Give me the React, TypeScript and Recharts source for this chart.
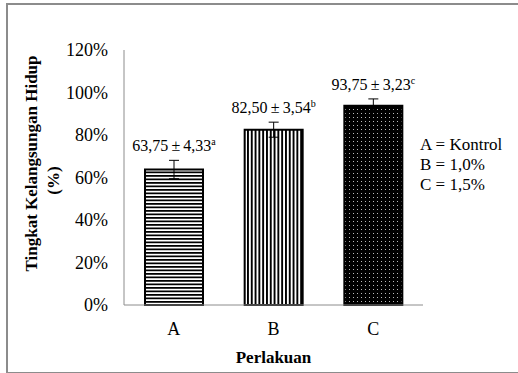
import React from "react";
import { BarChart, Bar, XAxis, YAxis, ErrorBar, Cell, LabelList } from "recharts";

// perlakuan
const categories = ["A", "B", "C"];
// tingkat kelangsungan hidup rata-rata (%)
const means = [63.75, 82.5, 93.75];
// simpangan baku
const sds = [4.33, 3.54, 3.23];
// huruf notasi uji lanjut
const letters = ["a", "b", "c"];
const yTicks = [0, 20, 40, 60, 80, 100, 120];
const legendLines = ["A = Kontrol", "B = 1,0%", "C = 1,5%"];

const data = categories.map((c, i) => ({
  name: c,
  mean: means[i],
  sd: sds[i],
  letter: letters[i],
}));

const FONT = '"Liberation Serif", "Times New Roman", serif';
const fills = ["url(#hstripes)", "url(#vstripes)", "url(#dots)"];

const fmt = (v: number) => v.toFixed(2).replace(".", ",");

function ValueLabel(props: any) {
  const { x, y, width, height, index } = props;
  const d = data[index];
  const pxPerUnit = height / d.mean;
  const errTop = y - d.sd * pxPerUnit;
  return (
    <text
      x={x + width / 2}
      y={errTop - 9}
      textAnchor="middle"
      fontFamily={FONT}
      fontSize={16}
      fill="#000"
    >
      {`${fmt(d.mean)}\u2009±\u2009${fmt(d.sd)}`}
      <tspan fontSize={10} dy={-6}>
        {d.letter}
      </tspan>
    </text>
  );
}

function YTitle(props: any) {
  const { viewBox } = props;
  const cy = viewBox.y + viewBox.height / 2;
  return (
    <g fontFamily={FONT} fontWeight="bold" fontSize={17} fill="#000">
      <text x={37} y={cy - 14} textAnchor="middle" transform={`rotate(-90 37 ${cy - 14})`}>
        Tingkat Kelangsungan Hidup
      </text>
      <text x={59} y={cy + 3} textAnchor="middle" transform={`rotate(-90 59 ${cy + 3})`}>
        (%)
      </text>
    </g>
  );
}

export default function App() {
  return (
    <div
      style={{
        position: "absolute",
        left: 0,
        top: 0,
        width: 518,
        height: 373,
        overflow: "hidden",
        background: "#fff",
      }}
    >
      <div
        style={{
          position: "absolute",
          left: 6,
          top: 3,
          width: 530,
          height: 367,
          border: "2px solid #8c8c8c",
        }}
      />
      <div style={{ position: "absolute", left: 0, top: 0 }}>
        <BarChart
          width={518}
          height={373}
          data={data}
          margin={{ top: 50, right: 95, bottom: 38, left: 0 }}
          barSize={58}
        >
          <defs>
            <pattern id="hstripes" width="4" height="3.5" patternUnits="userSpaceOnUse">
              <rect width="4" height="3.5" fill="#fff" />
              <rect width="4" height="1.75" fill="#000" />
            </pattern>
            <pattern id="vstripes" width="3.8" height="4" patternUnits="userSpaceOnUse">
              <rect width="3.8" height="4" fill="#fff" />
              <rect width="1.9" height="4" fill="#000" />
            </pattern>
            <pattern id="dots" width="4" height="4" patternUnits="userSpaceOnUse">
              <rect width="4" height="4" fill="#000" />
              <rect x="1" y="1" width="1" height="1" fill="#bbb" />
            </pattern>
          </defs>
          <XAxis
            dataKey="name"
            height={30}
            tickLine={false}
            tickSize={0}
            tickMargin={17}
            axisLine={{ stroke: "#8c8c8c", strokeWidth: 1 }}
            tick={{ fontFamily: FONT, fontSize: 18, fill: "#000" }}
            label={{
              value: "Perlakuan",
              position: "bottom",
              offset: 16,
              fontFamily: FONT,
              fontWeight: "bold",
              fontSize: 17,
              fill: "#000",
            }}
          />
          <YAxis
            width={124}
            domain={[0, 120]}
            ticks={yTicks}
            interval={0}
            tickLine={false}
            tickSize={0}
            tickMargin={16}
            tickFormatter={(v: number) => `${v}%`}
            axisLine={{ stroke: "#8c8c8c", strokeWidth: 1 }}
            tick={{ fontFamily: FONT, fontSize: 18, fill: "#000" }}
            label={{ content: (p: any) => <YTitle {...p} /> }}
          />
          <Bar dataKey="mean" stroke="#000" strokeWidth={2} isAnimationActive={false}>
            {data.map((d, i) => (
              <Cell key={d.name} fill={fills[i]} />
            ))}
            <ErrorBar dataKey="sd" width={5} stroke="#000" strokeWidth={1} direction="y" />
            <LabelList dataKey="mean" content={(p: any) => <ValueLabel {...p} />} />
          </Bar>
        </BarChart>
      </div>
      <div
        style={{
          position: "absolute",
          left: 420,
          top: 135,
          fontFamily: FONT,
          fontSize: 17,
          lineHeight: "20px",
          color: "#000",
        }}
      >
        {legendLines.map((l) => (
          <div key={l} style={{ whiteSpace: "nowrap" }}>
            {l}
          </div>
        ))}
      </div>
    </div>
  );
}
